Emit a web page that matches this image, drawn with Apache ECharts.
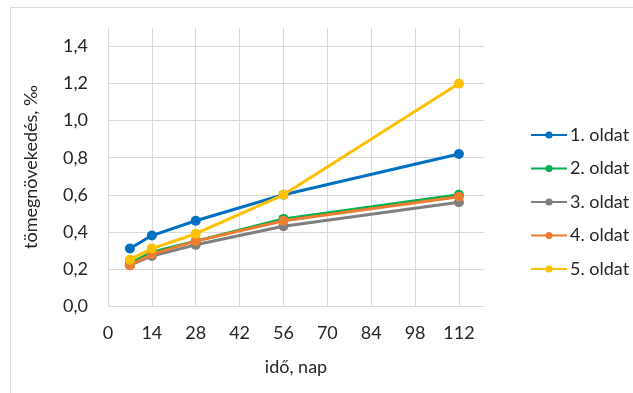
<!DOCTYPE html>
<html>
<head>
<meta charset="utf-8">
<style>
  html, body { margin: 0; padding: 0; background: #ffffff; }
  #chart { width: 633px; height: 393px; }
</style>
<script src="https://cdn.jsdelivr.net/npm/echarts@6/dist/echarts.min.js"></script>
</head>
<body>
<div id="chart"></div>
<script>
// Measurement days (x values)
const days = [7, 14, 28, 56, 112];

// Mass gain per solution, ‰
const oldat1 = [0.31, 0.38, 0.46, 0.60, 0.82];
const oldat2 = [0.23, 0.29, 0.35, 0.47, 0.60];
const oldat3 = [0.22, 0.27, 0.33, 0.43, 0.56];
const oldat4 = [0.22, 0.28, 0.35, 0.46, 0.59];
const oldat5 = [0.25, 0.31, 0.39, 0.60, 1.20];

const seriesNames = ['1. oldat', '2. oldat', '3. oldat', '4. oldat', '5. oldat'];
const seriesValues = [oldat1, oldat2, oldat3, oldat4, oldat5];
const seriesColors = ['#0070C0', '#00B050', '#7F7F7F', '#ED7D31', '#FFC000'];

const FONT = 'Lato';
const TEXT = '#262626';
const GRID = '#d9d9d9';

const chart = echarts.init(document.getElementById('chart'), null, { renderer: 'canvas' });

const series = seriesNames.map((name, i) => ({
  name: name,
  type: 'line',
  data: days.map((d, j) => [d, seriesValues[i][j]]),
  symbol: 'circle',
  symbolSize: 10,
  showSymbol: true,
  lineStyle: { width: 3, color: seriesColors[i] },
  itemStyle: { color: seriesColors[i] },
  emphasis: { disabled: true },
  z: 2 + i
}));

chart.setOption({
  animation: false,
  textStyle: { fontFamily: FONT },
  graphic: [{
    type: 'rect',
    shape: { x: 10.5, y: 7.5, width: 700, height: 500 },
    style: { fill: 'none', stroke: GRID, lineWidth: 1 },
    silent: true,
    z: -1
  }],
  grid: { left: 108, top: 28, right: 149, bottom: 87 },
  xAxis: {
    type: 'value',
    min: 0,
    max: 120,
    interval: 14,
    name: 'idő, nap',
    nameLocation: 'middle',
    nameGap: 52,
    nameTextStyle: { fontFamily: FONT, fontSize: 18, color: TEXT },
    axisLine: { show: true, lineStyle: { color: GRID, width: 1 } },
    axisTick: { show: false },
    axisLabel: { fontFamily: FONT, fontSize: 18, color: TEXT, margin: 18, showMaxLabel: false },
    splitLine: { show: true, showMaxLine: false, lineStyle: { color: GRID, width: 1 } }
  },
  yAxis: {
    type: 'value',
    min: 0,
    max: 1.5,
    interval: 0.2,
    name: 'tömegnövekedés, ‰',
    nameLocation: 'middle',
    nameGap: 68,
    nameTextStyle: { fontFamily: FONT, fontSize: 18, color: TEXT },
    axisLine: { show: true, lineStyle: { color: GRID, width: 1 } },
    axisTick: { show: false },
    axisLabel: {
      fontFamily: FONT, fontSize: 18, color: TEXT, margin: 20, showMaxLabel: false,
      formatter: v => v.toFixed(1).replace('.', ',')
    },
    splitLine: { show: true, showMaxLine: false, lineStyle: { color: GRID, width: 1 } }
  },
  legend: {
    orient: 'vertical',
    left: 525,
    top: 121,
    itemWidth: 36,
    itemHeight: 9,
    itemGap: 15.5,
    textStyle: { fontFamily: FONT, fontSize: 18, color: TEXT, padding: [0, 0, 0, -2] },
    data: seriesNames
  },
  series: series
});
</script>
</body>
</html>
